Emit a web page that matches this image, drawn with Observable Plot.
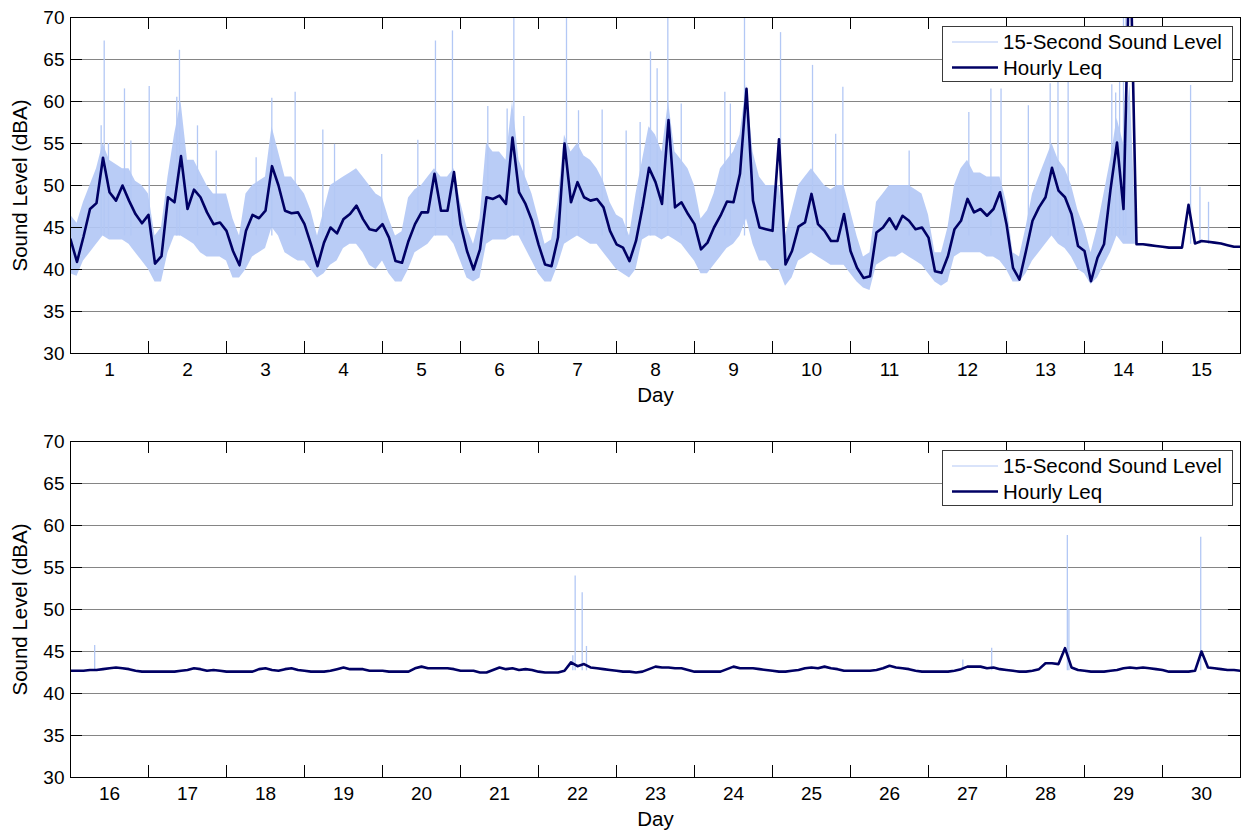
<!DOCTYPE html>
<html><head><meta charset="utf-8">
<script src="https://cdn.jsdelivr.net/npm/d3@7"></script>
<script src="https://cdn.jsdelivr.net/npm/@observablehq/plot@0.6"></script>
<style>
body{margin:0;background:#fff;font-family:"Liberation Sans",Arial,sans-serif;}
.panel{position:relative;width:1243px;}
.legend{position:absolute;left:942px;}
</style></head><body><div id="chart"></div>
<script>
// Hourly Leq (dBA), sampled every 2 hours. Top panel: days 1-15, bottom: days 16-30
const leqTop = [
43.6,40.9,43.9,47.2,47.9,53.3,49.2,48.2,50.0,48.2,
46.6,45.5,46.5,40.7,41.6,48.6,48.0,53.5,47.2,49.5,
48.6,46.8,45.4,45.6,44.6,42.2,40.5,44.6,46.5,46.1,
47.0,52.3,50.0,47.0,46.7,46.8,45.4,43.0,40.4,43.2,
45.0,44.3,46.0,46.6,47.6,46.0,44.8,44.6,45.4,43.8,
41.0,40.8,43.4,45.4,46.8,46.8,51.4,47.0,47.0,51.6,
45.4,42.2,40.0,42.4,48.6,48.4,48.8,47.8,55.7,49.2,
47.8,45.8,43.0,40.6,40.4,43.8,55.0,48.0,50.4,48.6,
48.2,48.4,47.4,44.6,43.0,42.6,41.0,43.4,47.4,52.1,
50.4,47.8,57.8,47.4,48.0,46.6,45.4,42.4,43.2,45.0,
46.4,48.1,48.0,51.4,61.5,48.2,45.0,44.8,44.6,55.5,
40.6,42.2,45.1,45.6,49.0,45.4,44.6,43.4,43.4,46.6,
42.2,40.2,39.0,39.2,44.4,45.0,46.1,44.8,46.4,45.8,
44.8,45.0,43.8,39.8,39.6,41.6,44.8,45.8,48.4,46.8,
47.2,46.4,47.2,49.2,45.4,40.2,38.8,42.2,45.8,47.4,
48.6,52.1,49.4,48.6,46.6,42.8,42.2,38.6,41.4,43.0,
49.5,55.1,47.2,80.0,43.0,43.0,42.9,42.8,42.7,42.6,
42.6,42.6,47.7,43.1,43.4,43.3,43.2,43.1,42.9,42.7,
42.7];
const leqBottom = [
42.7,42.7,42.7,42.8,42.8,42.9,43.0,43.1,43.0,42.9,
42.7,42.6,42.6,42.6,42.6,42.6,42.6,42.7,42.8,43.0,
42.9,42.7,42.8,42.7,42.6,42.6,42.6,42.6,42.6,42.9,
43.0,42.8,42.7,42.9,43.0,42.8,42.7,42.6,42.6,42.6,
42.7,42.9,43.1,42.9,42.9,42.9,42.7,42.7,42.7,42.6,
42.6,42.6,42.6,43.0,43.2,43.0,43.0,43.0,43.0,42.9,
42.7,42.7,
42.7,42.5,42.5,42.8,43.1,42.9,43.0,42.8,42.9,42.8,
42.6,42.5,42.5,42.5,42.7,43.7,43.25,43.5,43.1,43.0,
42.9,42.8,42.7,42.6,42.6,42.5,42.6,42.9,43.2,43.1,
43.1,43.0,43.0,42.8,42.6,42.6,42.6,42.6,42.6,42.9,
43.2,43.0,43.0,43.0,42.9,42.8,42.7,42.6,42.6,42.7,
42.8,43.0,43.1,43.0,43.2,43.0,42.9,42.7,42.7,
42.7,42.7,42.7,42.8,43.0,43.3,43.1,43.0,42.9,42.7,
42.6,42.6,42.6,42.6,42.6,42.7,42.9,43.2,43.2,43.2,
43.0,43.1,42.9,42.8,42.7,42.6,42.6,42.7,42.9,43.6,
43.6,43.5,45.4,43.1,42.8,42.7,42.6,42.6,42.6,42.7,
42.8,43.0,43.1,43.0,43.1,43.0,42.9,42.8,42.6,42.6,
42.6,42.6,42.7,45.0,43.1,43.0,42.9,42.8,42.8,42.7];

// 15-second sound level: dense range (low / high) every 2 hours, days 1-14
const bandLowTop = [
39.5,39.2,41,42,43,44,43.5,43.5,43.5,43,
42,41,40,38.5,38.5,42,44,44,43.5,43,
42,41.5,41.5,41.5,41,39,39,40,41.5,42,
42.5,45,44,42,41.5,41,41,40,39,39.5,
40.5,41,42.5,43,43,42,40.5,40,41,39.5,
38.5,38.5,40,42,42.5,43,44,44,44,43,
41,39,38.5,39,43,43.5,43.5,43.5,44,44,
42.5,41,39.5,38.5,38.5,40.5,43,43.5,44,43.5,
43,43,42,41,40,39.5,39,40,43.5,44,
44,43.5,44,43.5,43,42,41,39.5,39.5,40.5,
41.5,42.5,43,44,46,43,41,41,40,40,
38,39,41,41.5,42,41.5,41,40.5,40.5,40.5,
39.5,38.5,37.8,37.5,40.5,41,41.5,41.5,42,41.5,
41,40.5,39.5,38.5,38,38.5,41.5,42,42,42,
42,41.5,41.5,41,40,38.5,38.5,39.5,41,42,
43,44,43,42.5,41.5,40,39.5,38.2,39,40.5,
42,44,43,43,43];
const bandHighTop = [
46.5,45.5,48,50,52,55,53,52.5,52,52,
50.5,50,49,44,45,51,56,60,53,53,
51.5,50,49,49,49,46,44,49,50,50.5,
51,57,54,51,51,50,49,47,44,47,
50,50.5,51,51.5,52,51,50,49,48.5,46,
44,44.5,48.5,49.5,50,51,52,51,51,52,
48,45,43,46,55,54,54,53,60,53,
51,49,46,43,43.5,48,56,54,55,53.5,
53,52,50.5,48,46.5,46,44,49,53,57,
56,54,60,54,53,52,50,46,47,49,
52,53,54,56,62,54,51,50,50,50,
44,47,50,51,52,51,50,49.5,50,50,
47,44,41.5,42,48,49,50,50,50,50,
49.5,49,46.5,42,42,45,50,52,53,51.5,
51.5,51,51,51,48,42,41.5,45,49,51,
53,55,53,52,50,47,45,42,45,49,
53,58,55,62,43];

// Isolated 15-second peaks: [day (0 = start of day 1), from dBA, to dBA]
const spikesTop = [
[0.393,44,57.1],[0.432,44,67.2],[0.487,44,55.0],[0.692,44,61.5],[0.774,44,55.3],
[1.009,44,61.8],[1.363,44,60.5],[1.397,44,66.1],[1.628,44,57.1],[1.868,44,54.1],
[2.38,44,53.3],[2.581,44,60.4],[2.880,44,61.1],[3.235,44,56.6],[3.385,44,54.9],
[3.99,44,53.7],[4.453,44,55.4],[4.679,44,67.2],[4.897,44,68.4],[5.350,44,59.4],
[5.598,44,59.1],[5.684,44,75],[5.812,44,58.2],[6.359,44,75],[6.513,44,58.9],
[6.816,44,59.0],[7.124,44,56.5],[7.303,44,57.5],[7.436,44,65.9],[7.521,44,63.9],
[7.658,44,75],[7.83,44,59.7],[8.389,44,61.1],[8.46,44,59.7],[8.641,44,75],
[9.103,44,68.2],[9.513,44,64.3],[9.81,44,56.1],[9.902,44,61.7],[10.752,44,54.1],
[11.517,44,58.7],[11.80,44,61.5],[11.93,44,61.5],[12.28,44,59.5],[12.56,44,62.1],
[12.66,44,62.5],[12.79,44,62.3],[13.35,44,62.0],[13.40,44,61.0],[13.45,44,63.0],
[13.50,44,75],[13.53,44,75],[14.36,43,61.9],[14.48,43,49.8],[14.59,43,48.0]];
const spikesBottom = [
[15.31,42.7,45.7],[21.44,42.7,44.5],[21.47,42.7,54.0],[21.56,42.7,52.0],[21.615,42.7,45.6],
[26.44,42.7,44.0],[26.81,42.7,45.4],[27.78,42.7,58.8],[27.80,42.7,50.0],[29.49,42.7,58.6]];

const dayLabelsTop = ["1","2","3","4","5","6","7","8","9","10","11","12","13","14","15"];
const dayLabelsBottom = ["16","17","18","19","20","21","22","23","24","25","26","27","28","29","30"];
const yTicks = [30,35,40,45,50,55,60,65,70];
const legendLabels = ["15-Second Sound Level","Hourly Leq"];

const LIGHT = "#b3c8f5", DARK = "#000064";
const FONT = "'Liberation Sans', Arial, sans-serif";
const W = 1243, ML = 70, MR = 3, FH = 336, FW = W - ML - MR;

function panel({start, leq, lo, hi, spikes, labels, height, marginTop}) {
  const marginBottom = height - marginTop - FH;
  const leqData = leq.map((v, i) => ({day: start + i * 2 / 24, v}));
  const bandData = lo ? lo.map((v, i) => ({day: start + i * 2 / 24, lo: v, hi: hi[i]})) : [];
  const inner = yTicks.slice(1, -1);
  const dayTicks = d3.range(start + 1, start + 15);
  const labelTicks = labels.map((_, i) => start + 0.5 + i);
  const svg = Plot.plot({
    width: W, height, marginLeft: ML, marginRight: MR, marginTop, marginBottom,
    style: {fontFamily: FONT, fontSize: "19px", color: "black", background: "white", overflow: "visible"},
    x: {domain: [start, start + 15]},
    y: {domain: [30, 70]},
    marks: [
      Plot.ruleY(inner, {stroke: "#858585", strokeWidth: 1.1}),
      Plot.areaY(bandData, {x: "day", y1: "lo", y2: "hi", fill: LIGHT, fillOpacity: 0.92, clip: true}),
      Plot.ruleX(spikes, {x: d => d[0], y1: d => d[1], y2: d => d[2], stroke: LIGHT, strokeWidth: 1.3, clip: true}),
      Plot.line(leqData, {x: "day", y: "v", stroke: DARK, strokeWidth: 2.6, clip: true}),
      Plot.ruleX(dayTicks, {stroke: "black", insetTop: FH - 12}),
      Plot.ruleX(dayTicks, {stroke: "black", insetBottom: FH - 12}),
      Plot.ruleY(inner, {stroke: "black", insetRight: FW - 12}),
      Plot.ruleY(inner, {stroke: "black", insetLeft: FW - 12}),
      Plot.frame({stroke: "black"}),
      Plot.axisX({ticks: labelTicks, tickFormat: d => labels[Math.round(d - start - 0.5)], tickSize: 0, tickPadding: 9, label: null, fontSize: 19}),
      Plot.axisY({ticks: yTicks, tickFormat: d => String(d), tickSize: 0, tickPadding: 6, label: null, fontSize: 19}),
      Plot.text(["Day"], {frameAnchor: "bottom", dy: 42, fontSize: 20.5, lineAnchor: "middle", textAnchor: "middle"}),
      Plot.text(["Sound Level (dBA)"], {frameAnchor: "left", dx: -50, rotate: -90, fontSize: 20.5, lineAnchor: "middle", textAnchor: "middle"})
    ]
  });
  const div = document.createElement("div");
  div.className = "panel";
  div.style.height = height + "px";
  div.appendChild(svg);
  // legend
  const lg = d3.create("svg").attr("class", "legend").attr("width", 292).attr("height", 57)
    .style("top", (marginTop + 9) + "px").style("font-family", FONT);
  lg.append("rect").attr("x", 0.5).attr("y", 0.5).attr("width", 290).attr("height", 55)
    .attr("fill", "white").attr("stroke", "#3a3a3a");
  const rows = [{c: LIGHT, w: 1.2, y: 16}, {c: DARK, w: 2.6, y: 41.5}];
  rows.forEach((r, i) => {
    lg.append("line").attr("x1", 10).attr("x2", 56).attr("y1", r.y).attr("y2", r.y)
      .attr("stroke", r.c).attr("stroke-width", r.w);
    lg.append("text").attr("x", 61).attr("y", r.y).attr("dy", "0.36em")
      .attr("font-size", 20.5).attr("fill", "black").text(legendLabels[i]);
  });
  div.appendChild(lg.node());
  return div;
}

const chart = document.getElementById("chart");
chart.appendChild(panel({start: 0, leq: leqTop, lo: bandLowTop, hi: bandHighTop, spikes: spikesTop, labels: dayLabelsTop, height: 420, marginTop: 17}));
chart.appendChild(panel({start: 15, leq: leqBottom, lo: null, hi: null, spikes: spikesBottom, labels: dayLabelsBottom, height: 411, marginTop: 21}));
</script></body></html>
